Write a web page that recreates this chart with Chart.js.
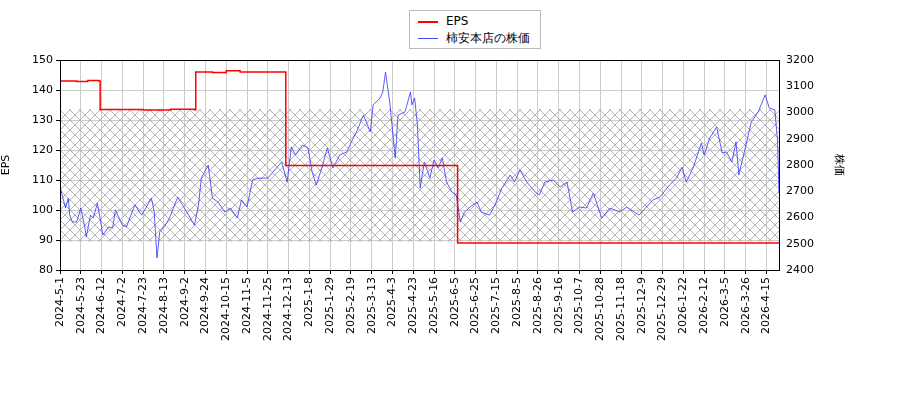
<!DOCTYPE html>
<html><head><meta charset="utf-8">
<script src="https://cdn.jsdelivr.net/npm/chart.js@4/dist/chart.umd.min.js"></script>
<style>body{margin:0;background:#fff;font-family:"DejaVu Sans";}
#lg{position:absolute;left:409px;top:10px;width:130px;height:37px;border:1px solid #bbb;background:#fff;font-size:12px;}
#lg div{position:absolute;left:8px;height:16px;line-height:16px;}
#lg span{display:inline-block;width:20px;height:0;vertical-align:middle;margin-right:8px;}
</style></head><body>
<div style="position:relative;width:900px;height:400px">
<canvas id="c" width="900" height="400"></canvas>
<div id="lg"><div style="top:2px"><span style="border-top:2px solid red"></span>EPS</div><div style="top:19px"><span style="border-top:1px solid #44f"></span>柿安本店の株価</div></div>
</div>
<script>
const tickLabels=["2024-5-1","2024-5-23","2024-6-12","2024-7-2","2024-7-23","2024-8-13","2024-9-2","2024-9-24","2024-10-15","2024-11-5","2024-11-25","2024-12-13","2025-1-8","2025-1-29","2025-2-19","2025-3-13","2025-4-3","2025-4-23","2025-5-16","2025-6-5","2025-6-25","2025-7-15","2025-8-5","2025-8-26","2025-9-16","2025-10-7","2025-10-28","2025-11-18","2025-12-9","2025-12-29","2026-1-22","2026-2-12","2026-3-5","2026-3-26","2026-4-15"];
const epsDays=[0,12,20,28,29,60,80,97,98,110,120,130,162,163,286,287,400,519];
const epsVals=[143,142.8,143.2,143,133.5,133.3,133.6,133.4,146,145.8,146.4,146,146,114.8,114.8,89,89,89];
const priceDays=[0,1,4,6,7,9,12,15,18,19,22,24,27,31,35,38,40,45,48,54,59,66,68,70,72,76,79,85,92,97,100,102,107,110,114,119,123,128,131,135,139,143,150,155,160,164,167,170,175,179,182,185,189,193,197,202,207,211,214,219,224,226,231,233,235,238,242,244,249,253,254,256,258,260,263,267,270,273,276,279,283,286,289,292,296,301,304,310,314,319,325,328,332,337,343,346,350,356,361,366,370,375,380,385,391,397,404,409,418,428,433,440,445,449,452,457,463,465,469,474,478,481,485,488,490,494,499,504,509,512,516,518,519];
const priceVals=[2720,2697,2636,2674,2609,2583,2583,2636,2560,2526,2609,2598,2655,2533,2564,2560,2629,2571,2564,2648,2609,2674,2621,2446,2545,2571,2598,2678,2617,2571,2648,2750,2800,2674,2659,2621,2636,2598,2667,2640,2743,2750,2750,2781,2811,2735,2869,2838,2876,2865,2773,2724,2789,2865,2789,2838,2850,2895,2926,2990,2926,3029,3055,3078,3154,3040,2827,2990,3002,3078,3029,3055,2952,2712,2811,2750,2819,2789,2827,2735,2697,2686,2583,2621,2640,2659,2621,2609,2648,2712,2762,2735,2781,2735,2697,2686,2735,2743,2716,2735,2621,2640,2636,2693,2598,2636,2621,2640,2609,2667,2678,2724,2750,2792,2735,2789,2884,2838,2903,2945,2846,2850,2811,2888,2762,2850,2964,3002,3067,3017,3010,2888,2690];
const hatchRange=[89.4,133.6];

const pc=document.createElement('canvas');pc.width=10;pc.height=10;
const px=pc.getContext('2d');px.strokeStyle='#b4b4b4';px.lineWidth=1;
px.beginPath();px.moveTo(0,0);px.lineTo(10,10);px.moveTo(10,0);px.lineTo(0,10);px.stroke();
const hatch={id:'hatch',beforeDatasetsDraw(ch){const {ctx,chartArea:a,scales:{y}}=ch;
 const t=y.getPixelForValue(hatchRange[1]),b=y.getPixelForValue(hatchRange[0]);
 ctx.save();ctx.fillStyle=ctx.createPattern(pc,'repeat');ctx.fillRect(a.left,t,a.right-a.left,b-t);ctx.restore();}};
const frame={id:'frame',afterDraw(ch){const {ctx,chartArea:a}=ch;ctx.save();ctx.strokeStyle='#000';ctx.lineWidth=1;ctx.strokeRect(a.left+.5,a.top+.5,a.right-a.left,a.bottom-a.top);ctx.restore();}};
const F={family:'DejaVu Sans',size:11};
new Chart(document.getElementById('c'),{type:'line',
 data:{datasets:[
  {data:epsDays.map((d,i)=>({x:d,y:epsVals[i]})),borderColor:'red',borderWidth:1.5,stepped:true,pointRadius:0,yAxisID:'y'},
  {data:priceDays.map((d,i)=>({x:d,y:priceVals[i]})),borderColor:'#3333ff',borderWidth:0.8,pointRadius:0,yAxisID:'y2'}]},
 options:{responsive:false,animation:false,layout:{padding:{top:60,left:0,right:55}},
  plugins:{legend:{display:false},tooltip:{enabled:false}},
  scales:{
   x:{type:'linear',min:0,max:519,afterBuildTicks(s){s.ticks=tickLabels.map((l,i)=>({value:i*15}));},
      afterFit(s){s.height=130;},
      ticks:{autoSkip:false,maxRotation:90,minRotation:90,color:'#000',font:F,callback:(v,i)=>tickLabels[i]},
      grid:{color:'#ccc',tickColor:'#000',drawTicks:true,tickLength:4},border:{color:'#000'}},
   y:{position:'left',min:80,max:150,afterFit(s){s.width=60;},ticks:{stepSize:10,color:'#000',font:F},
      grid:{color:'#ccc',tickColor:'#000',tickLength:4},border:{color:'#000'},
      title:{display:true,text:'EPS',color:'#000',font:F,padding:0}},
   y2:{position:'right',min:2400,max:3200,afterFit(s){s.width=66;},ticks:{stepSize:100,color:'#000',font:F,callback:v=>String(v)},
      grid:{display:false,tickLength:4},border:{color:'#000'},
      title:{display:true,text:'株価',color:'#000',font:F,padding:0}}}},
 plugins:[hatch,frame]});
</script></body></html>
